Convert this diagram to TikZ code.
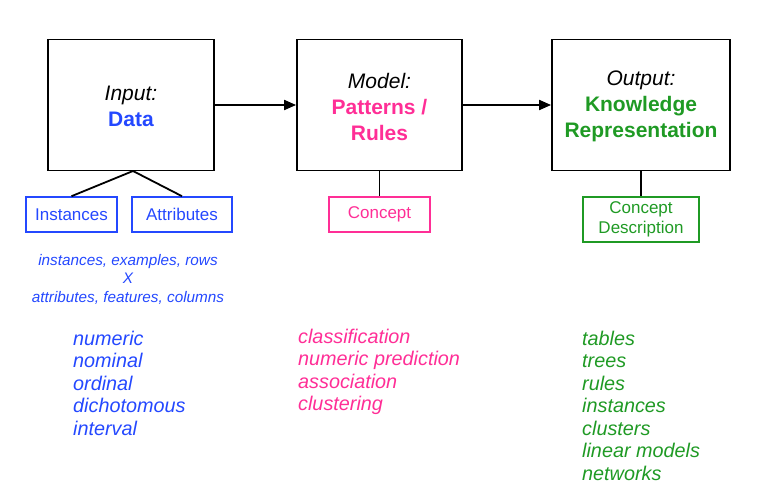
\documentclass[tikz,border=0pt]{standalone}
\usepackage{fontspec}
\setmainfont{Liberation Sans}
\usetikzlibrary{arrows.meta}
\definecolor{cblue}{HTML}{2448FF}
\definecolor{cpink}{HTML}{FF2E96}
\definecolor{cgreen}{HTML}{1F9A24}
\tikzset{
  bigbox/.style={draw=black, line width=1.8pt, minimum width=#1, minimum height=131pt, inner sep=0pt, align=center, font=\fontsize{21}{26}\selectfont},
  smallbox/.style={draw=#1, text=#1, line width=1.6pt, inner sep=0pt, align=center, font=\fontsize{17}{20}\selectfont},
  conn/.style={line width=1.8pt},
  flow/.style={line width=1.8pt, -{Triangle[length=12pt,width=10pt]}},
  listtxt/.style={anchor=west, text=#1, font=\fontsize{19.8}{22.5}\selectfont\itshape, align=left, inner sep=0pt},
}
\begin{document}
\begin{tikzpicture}[x=1pt,y=-1pt]
\useasboundingbox (0,0) rectangle (768,503);
\node[bigbox=166pt] (inp) at (131,105) {};
\node[font=\fontsize{21}{26}\selectfont, align=center] (inpt) at (131,106) {\textit{Input:}\\\textcolor{cblue}{\textbf{Data}}};
\node[bigbox=165pt] (mod) at (379.5,105) {};
\node[font=\fontsize{21}{26}\selectfont, align=center] (modt) at (379.5,106.5) {\textit{Model:}\\\textcolor{cpink}{\textbf{Patterns /}}\\\textcolor{cpink}{\textbf{Rules}}};
\node[bigbox=178pt] (out) at (641,105) {};
\node[font=\fontsize{21}{26}\selectfont, align=center] (outt) at (641,106.5) {\textit{Output:}\\\textcolor{cgreen}{\textbf{Knowledge}}\\\textcolor{cgreen}{\textbf{Representation}}};
\draw[flow] (inp.east) -- (mod.west);
\draw[flow] (mod.east) -- (out.west);

\node[smallbox=cblue, minimum width=91pt, minimum height=35pt] (ins) at (71.5,214.5) {Instances};
\node[smallbox=cblue, minimum width=100pt, minimum height=35pt] (att) at (182,214.5) {Attributes};
\coordinate (inb) at (133,171);
\draw[conn] (inb) -- (ins.north);
\draw[conn] (inb) -- (att.north);

\node[smallbox=cpink, minimum width=101pt, minimum height=35pt] (con) at (379.5,214.5) {Concept};
\draw[conn] (mod.south) -- (con.north);

\node[smallbox=cgreen, minimum width=116pt, minimum height=45pt] (cd) at (641,219.5) {Concept\\Description};
\draw[conn] (out.south) -- (cd.north);

\node[text=cblue, font=\fontsize{15.3}{18.5}\selectfont\itshape, align=center, inner sep=0pt] (ax) at (128,279) {instances, examples, rows\\X\\attributes, features, columns};

\node[listtxt=cblue] (l1) at (73,383) {numeric\\nominal\\ordinal\\dichotomous\\interval};
\node[listtxt=cpink] (l2) at (298,372) {classification\\numeric prediction\\association\\clustering};
\node[listtxt=cgreen] (l3) at (582,405.5) {tables\\trees\\rules\\instances\\clusters\\linear models\\networks};
\end{tikzpicture}
\end{document}
